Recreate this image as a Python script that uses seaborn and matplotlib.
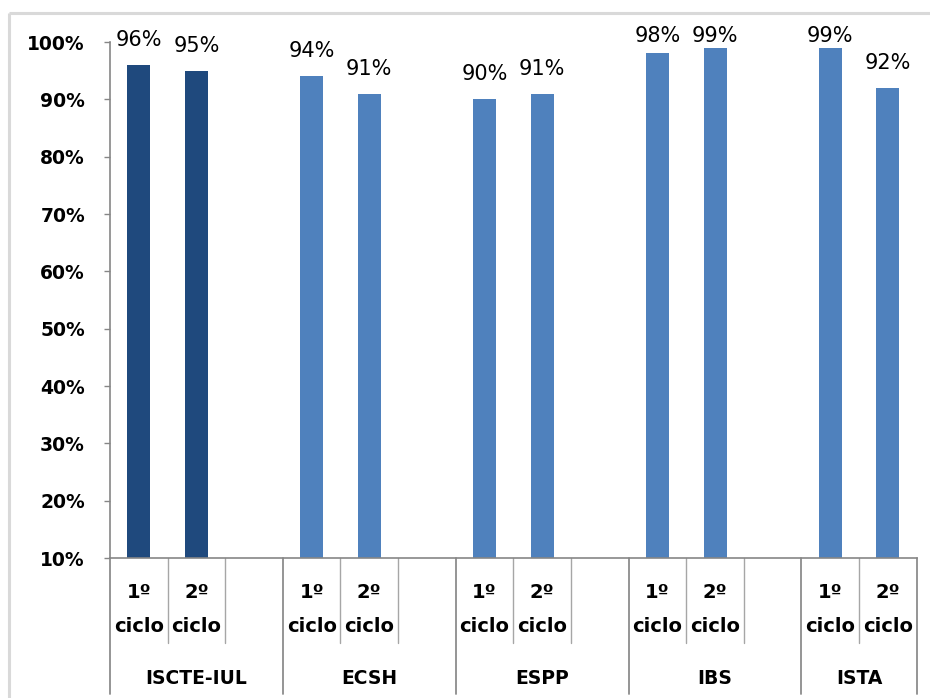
import matplotlib
matplotlib.use("Agg")
import matplotlib.pyplot as plt
from matplotlib.lines import Line2D
import matplotlib.transforms as mtransforms
import seaborn as sns
import pandas as pd

# Data: share per school and study cycle (%)
grupos = ["ISCTE-IUL", "ECSH", "ESPP", "IBS", "ISTA"]
ciclos = ["1º\nciclo", "2º\nciclo"]
valores_1ciclo = [96, 94, 90, 98, 99]
valores_2ciclo = [95, 91, 91, 99, 92]
y_ticks = [10, 20, 30, 40, 50, 60, 70, 80, 90, 100]

COR_ESCURA = "#1F497D"
COR_CLARA = "#4F81BD"

# Build slot order: each school has two cycles followed by a blank slot
ordem = []
linhas = []
for i, g in enumerate(grupos):
    for c, vals in zip(ciclos, [valores_1ciclo, valores_2ciclo]):
        chave = f"{g}|{c}"
        ordem.append(chave)
        linhas.append({"slot": chave, "grupo": g, "ciclo": c, "valor": vals[i]})
    if i < len(grupos) - 1:
        ordem.append(f"{g}|vazio")
df = pd.DataFrame(linhas)

paleta = {g: (COR_ESCURA if g == "ISCTE-IUL" else COR_CLARA) for g in grupos}

sns.set_theme(style="white")
plt.rcParams["font.family"] = ["DejaVu Sans"]
plt.rcParams["text.color"] = "black"

fig = plt.figure(figsize=(9.3, 6.98), dpi=100)
fig.patch.set_facecolor("white")
W, H = 930, 698
ax = fig.add_axes([110 / W, 1 - 558 / H, (916.7 - 110) / W, (558 - 42) / H])

sns.barplot(data=df, x="slot", y="valor", hue="grupo", order=ordem,
            palette=paleta, dodge=False, width=0.4, legend=False,
            saturation=1, linewidth=0, ax=ax)

ax.set_xlim(-0.5, len(ordem) - 0.5)
ax.set_ylim(10, 100)
ax.set_yticks(y_ticks)
ax.set_yticklabels([f"{t}%" for t in y_ticks], fontsize=13.5, fontweight="bold",
                   color="black")
ax.tick_params(axis="y", direction="out", length=4.5, width=1, color="#868686",
               pad=13.5, left=True)
ax.set_xticks([])
ax.set_xlabel("")
ax.set_ylabel("")
for s in ["top", "right"]:
    ax.spines[s].set_visible(False)
for s in ["left", "bottom"]:
    ax.spines[s].set_color("#868686")
    ax.spines[s].set_linewidth(1.2)

# Value labels above each bar, kept inside the plot area at the top
desvio = 3.3  # label baseline offset above bar top, in data units
pos = {k: i for i, k in enumerate(ordem)}
for _, r in df.iterrows():
    y_rot = min(r["valor"] + desvio, 100)
    ax.text(pos[r["slot"]], y_rot, f"{r['valor']}%",
            ha="center", va="baseline", fontsize=15, color="black",
            clip_on=False)

# Two-level category axis
trans = mtransforms.blended_transform_factory(ax.transData, ax.transAxes)
h_ax = 558 - 42
y_inner = -(643 - 558) / h_ax
y_full = -(694 - 558) / h_ax
y_l1 = -(592 - 558) / h_ax
y_l2 = -(626 - 558) / h_ax
y_grp = -(678 - 558) / h_ax

inicio = 0
for i, g in enumerate(grupos):
    n = 3 if i < len(grupos) - 1 else 2
    esquerda = inicio - 0.5
    direita = inicio + n - 0.5
    for k in range(1, n):
        xs = inicio + k - 0.5
        ax.add_line(Line2D([xs, xs], [0, y_inner], transform=trans,
                           color="#A6A6A6", lw=1.0, clip_on=False))
    for xs in ([esquerda, direita] if i == 0 else [direita]):
        ax.add_line(Line2D([xs, xs], [0, y_full], transform=trans,
                           color="#8C8C8C", lw=1.3, clip_on=False))
    for k, c in enumerate(ciclos):
        l1, l2 = c.split("\n")
        ax.text(inicio + k, y_l1, l1, transform=trans, ha="center", va="center",
                fontsize=14, fontweight="bold", color="black")
        ax.text(inicio + k, y_l2, l2, transform=trans, ha="center", va="center",
                fontsize=14, fontweight="bold", color="black")
    ax.text((esquerda + direita) / 2, y_grp, g, transform=trans, ha="center",
            va="center", fontsize=13.5, fontweight="bold", color="black")
    inicio += n

# Chart area border (left and top edges)
borda = "#D9D9D9"
fig.add_artist(Line2D([9 / W, 9 / W], [0, 1 - 13 / H], transform=fig.transFigure,
                      color=borda, lw=2.2, solid_capstyle="butt"))
fig.add_artist(Line2D([9 / W, 1], [1 - 13 / H, 1 - 13 / H], transform=fig.transFigure,
                      color=borda, lw=2.2, solid_capstyle="butt"))

fig.savefig("out.png", dpi=100, facecolor="white")
